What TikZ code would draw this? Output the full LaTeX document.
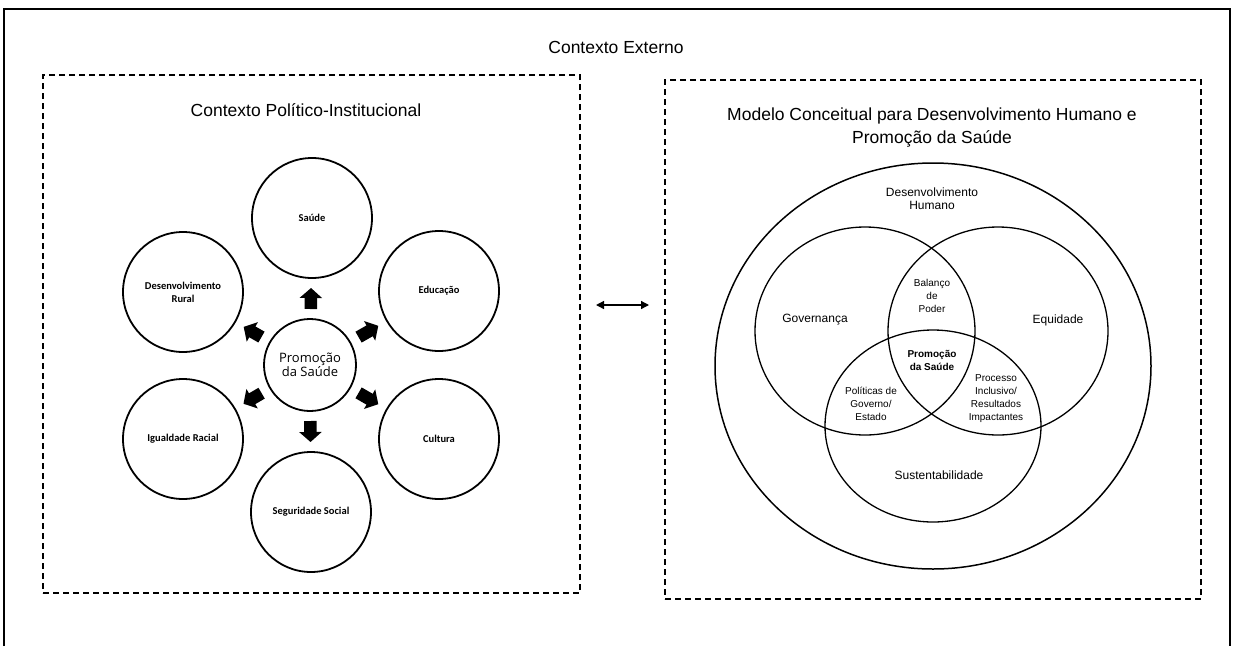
\documentclass[tikz,border=0pt]{standalone}
\usepackage{fontspec}
\setmainfont{Liberation Sans}
\newfontfamily\carl{Carlito}
\newfontfamily\opens{Open Sans}
\usetikzlibrary{arrows.meta,shapes.geometric}
\begin{document}
\begin{tikzpicture}[x=1pt,y=-1pt,
  every node/.style={inner sep=0pt,outer sep=0pt},
  dashbox/.style={draw,dash pattern=on 6pt off 4pt,line width=2.2pt,rectangle},
  titletext/.style={font=\fontsize{17.5}{23}\selectfont,align=center},
  smallc/.style={draw,circle,line width=1.8pt,minimum size=120pt,align=center,
     font=\carl\bfseries\fontsize{10.5}{13}\selectfont},
  centerc/.style={draw,circle,line width=1.8pt,minimum size=92pt,align=center,
     font=\opens\fontsize{13}{14.5}\selectfont},
  blockarrow/.style={line width=12.5pt,-{Triangle[length=10pt,width=22pt]},
     shorten <=10pt,shorten >=10pt},
  vennc/.style={draw,ellipse,line width=1.3pt},
  vlabel/.style={align=center,font=\fontsize{12}{13}\selectfont},
  vsmall/.style={align=center,font=\fontsize{10}{13}\selectfont},
  dbl/.style={line width=1.3pt,{Triangle[length=8pt,width=8pt]}-{Triangle[length=8pt,width=8pt]}}
]
\useasboundingbox (0,0) rectangle (1234,646);
% outer frame
\draw[line width=2.5pt] (4,646) -- (4,9) -- (1230,9) -- (1230,646);
\node[titletext] (ext) at (616,47) {Contexto Externo};

% dashed panels
\node[dashbox,minimum width=537pt,minimum height=518pt] (leftbox) at (311.5,334) {};
\node[dashbox,minimum width=536pt,minimum height=519pt] (rightbox) at (933,339.5) {};

% left panel
\node[titletext] (lt) at (306,110) {Contexto Político-Institucional};
\node[centerc] (promo) at (310,365) {Promoção\\da Saúde};
\node[smallc] (saude) at (312,218) {Saúde};
\node[smallc] (educ) at (439,291) {Educação};
\node[smallc] (rural) at (183,292) {Desenvolvimento\\Rural};
\node[smallc] (igual) at (183,439) {Igualdade Racial};
\node[smallc] (cult) at (439,439) {Cultura};
\node[smallc] (segur) at (311,512) {Seguridade Social};
\foreach \t in {saude,educ,rural,igual,cult,segur}
  \draw[blockarrow] (promo) -- (\t);

% link between panels
\coordinate (mid) at (622,305);
\draw[dbl,shorten <=16pt,shorten >=16pt] (leftbox.east |- mid) -- (rightbox.west |- mid);

% right panel
\node[titletext] (rt) at (932,128) {Modelo Conceitual para Desenvolvimento Humano e\\Promoção da Saúde};
\node[vennc,line width=1.5pt,minimum width=436pt,minimum height=406pt] (dh) at (933,366) {};
\node[vennc,minimum width=220pt,minimum height=208pt] (gov) at (865,331) {};
\node[vennc,minimum width=220pt,minimum height=208pt] (equ) at (998,331) {};
\node[vennc,minimum width=216pt,minimum height=192pt] (sus) at (933,426) {};

\node[vlabel] (tdh) at (932,199) {Desenvolvimento\\Humano};
\node[vlabel] (tgov) at (815,320) {Governança};
\node[vlabel] (tequ) at (1058,320) {Equidade};
\node[vlabel] (tsus) at (939,475) {Sustentabilidade};
\node[vsmall] (tbal) at (932,296) {Balanço\\de\\Poder};
\node[vsmall,font=\bfseries\fontsize{10}{13}\selectfont] (tps) at (932,360) {Promoção\\da Saúde};
\node[vsmall] (tpol) at (871,404) {Políticas de\\Governo/\\Estado};
\node[vsmall] (tpro) at (996,399) {Processo\\Inclusivo/\\Resultados\\Impactantes};
\end{tikzpicture}
\end{document}
